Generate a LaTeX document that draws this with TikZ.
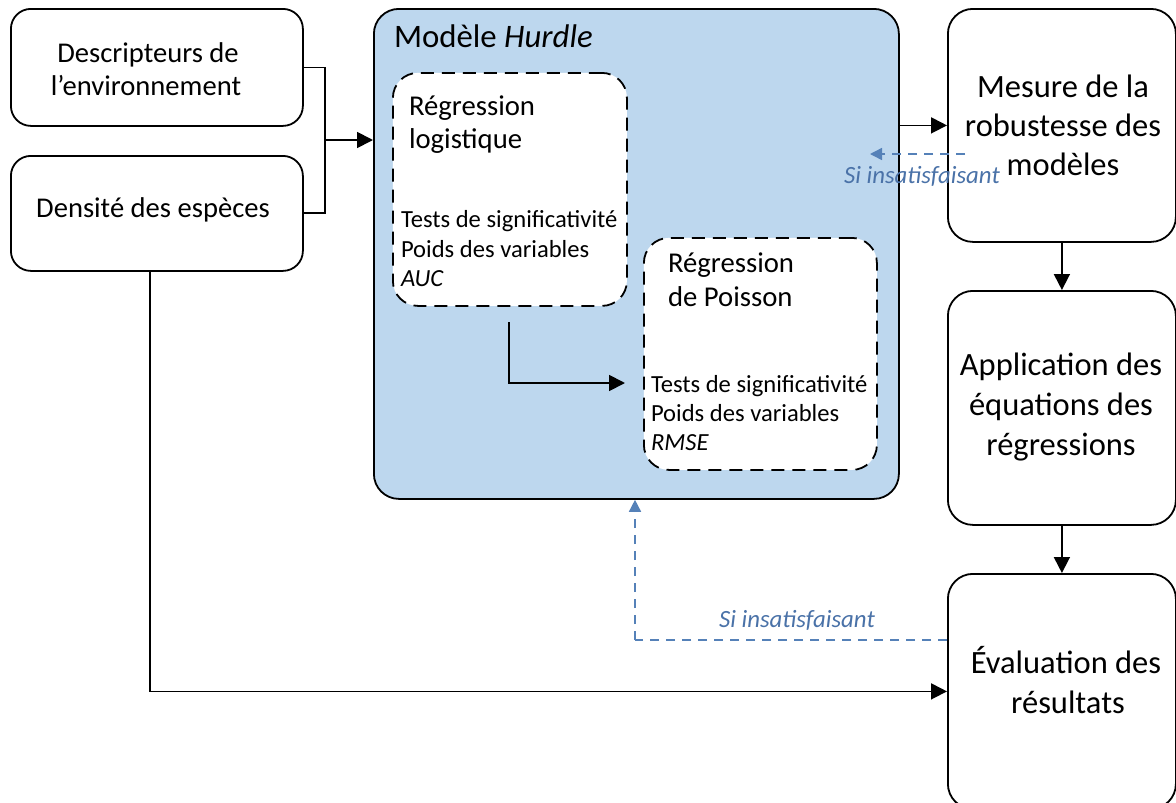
\documentclass[tikz,border=0pt]{standalone}
\usepackage{fontspec}
\setmainfont{Carlito}
\usetikzlibrary{arrows.meta}
\definecolor{hfill}{HTML}{BDD7EE}
\definecolor{fbcol}{HTML}{5581B8}
\definecolor{fbtext}{HTML}{4A72A8}
\begin{document}
\begin{tikzpicture}[x=1pt,y=-1pt,
  box/.style={draw=black, line width=1.8pt, fill=white, inner sep=0pt, anchor=north west},
  dbox/.style={draw=black, line width=1.8pt, fill=white, inner sep=0pt, anchor=north west,
     rounded corners=25pt, dash pattern=on 13pt off 8pt},
  arr/.style={line width=1.8pt, -{Triangle[length=16pt,width=16pt]}},
  plain/.style={line width=1.8pt},
  fbarr/.style={draw=fbcol, line width=1.5pt, dash pattern=on 9pt off 7pt, -{Triangle[length=12pt,width=12pt]}},
  fbline/.style={draw=fbcol, line width=1.5pt, dash pattern=on 9pt off 7pt},
  txt/.style={inner sep=0pt, outer sep=0pt},
  lbl/.style={txt, font=\fontsize{28.6}{34}\selectfont, anchor=base},
  big/.style={txt, font=\fontsize{32.5}{39}\selectfont, anchor=base},
  reg/.style={txt, font=\fontsize{28.7}{34}\selectfont, anchor=base west},
  tst/.style={txt, font=\fontsize{24.6}{29}\selectfont, anchor=base west},
  fbl/.style={txt, font=\fontsize{24.8}{29}\selectfont\itshape, text=fbtext, anchor=base}
]
\useasboundingbox (0,0) rectangle (1176,803);
\fill[white] (0,0) rectangle (1176,803);

% boxes
\node[box, rounded corners=20pt, minimum width=292pt, minimum height=117pt] (desc) at (10,8) {};
\node[box, rounded corners=20pt, minimum width=292pt, minimum height=115pt] (dens) at (10,155) {};
\node[box, rounded corners=25pt, fill=hfill, minimum width=525pt, minimum height=490pt] (hurdle) at (373,8) {};
\node[dbox, minimum width=234pt, minimum height=233pt] (logb) at (392,72) {};
\node[dbox, minimum width=233pt, minimum height=232pt] (poib) at (643,237) {};
\node[box, rounded corners=25pt, minimum width=228pt, minimum height=233pt] (mesure) at (947,8) {};
\node[box, rounded corners=25pt, minimum width=228pt, minimum height=234pt] (appl) at (947,290) {};
\node[box, rounded corners=25pt, minimum width=228pt, minimum height=235pt] (eval) at (947,573) {};

% texts
\node[lbl] (desc1) at (148,62) {Descripteurs de};
\node[lbl] (desc2) at (146,95) {l’environnement};
\node[lbl] (dens1) at (153,217) {Densité des espèces};

\node[txt, font=\fontsize{32.8}{39}\selectfont, anchor=base west] (htitle) at (394,47) {Modèle \textit{Hurdle}};

\node[reg] (log1) at (409,115) {Régression};
\node[reg] (log2) at (409,148) {logistique};
\node[tst] (log3) at (401,227) {Tests de significativité};
\node[tst] (log4) at (401,257) {Poids des variables};
\node[tst] (log5) at (401,286) {\itshape AUC};

\node[reg] (poi1) at (668,272) {Régression};
\node[reg] (poi2) at (668,306) {de Poisson};
\node[tst] (poi3) at (651,392) {Tests de significativité};
\node[tst] (poi4) at (651,421) {Poids des variables};
\node[tst] (poi5) at (651,450) {\itshape RMSE};

\node[big] (mes1) at (1063,97) {Mesure de la};
\node[big] (mes2) at (1063,136) {robustesse des};
\node[big] (mes3) at (1063,175) {modèles};

\node[big] (app1) at (1061,375) {Application des};
\node[big] (app2) at (1061,415) {équations des};
\node[big] (app3) at (1061,455) {régressions};

\node[big] (ev1) at (1066,673) {Évaluation des};
\node[big] (ev2) at (1068,713) {résultats};

% connectors
\coordinate (jn) at (325,140);
\draw[plain] (desc.east) -| (jn);
\draw[plain] (dens.east |- 0,213) -| (jn);
\draw[arr] (jn) -- (jn -| hurdle.west);

\draw[arr] (hurdle.east |- mesure.west) -- (mesure.west);
\draw[arr] (mesure.south) -- (appl.north);
\draw[arr] (appl.south) -- (eval.north);

\coordinate (dd) at (150,270);
\draw[arr] (dd) |- (eval.west);

\coordinate (lp1) at (509,322);
\coordinate (lp2) at (625,383);
\draw[arr] (lp1) |- (lp2);

% feedback
\coordinate (fb1) at (965,154);
\coordinate (fb2) at (870,154);
\draw[fbarr] (fb1) -- (fb2);
\node[fbl] (fbl1) at (922,183) {Si insatisfaisant};

\coordinate (fbx) at (635,640);
\draw[fbline] (eval.west |- fbx) -- (fbx);
\draw[fbarr] (fbx) -- (fbx |- hurdle.south);
\node[fbl] (fbl2) at (797,627) {Si insatisfaisant};
\end{tikzpicture}
\end{document}
